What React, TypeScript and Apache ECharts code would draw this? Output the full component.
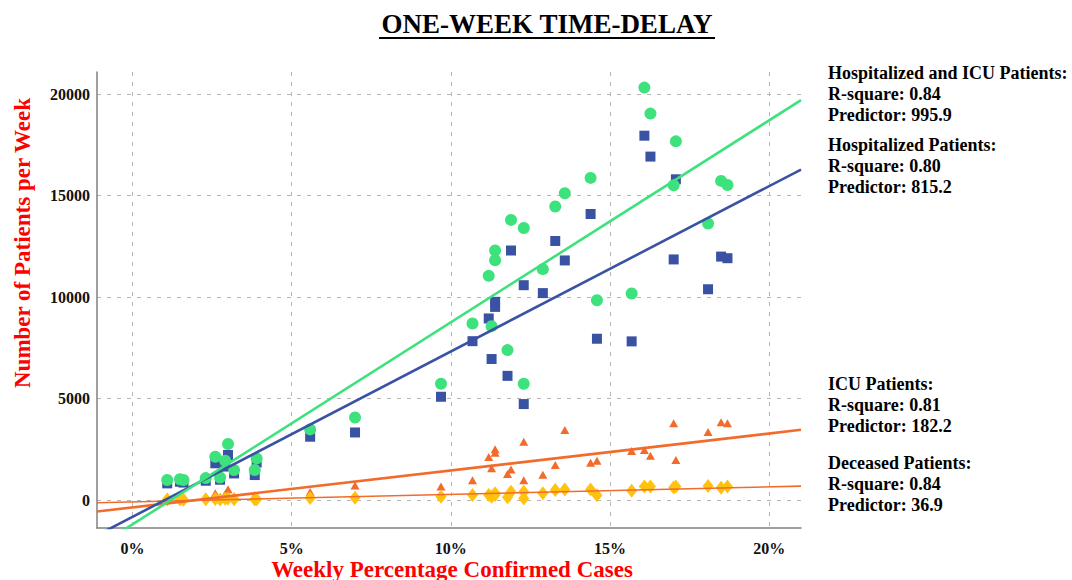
import React, { useEffect, useRef } from "react";
import * as echarts from "echarts";

const weekPct = [1.09, 1.49, 1.6, 2.3, 2.6, 2.75, 2.91, 3.0, 3.19, 3.84, 3.9, 5.58, 6.99, 9.69, 10.68, 11.19, 11.28, 11.39, 11.39, 11.78, 11.89, 12.29, 12.29, 12.89, 13.28, 13.58, 14.39, 14.59, 15.68, 16.08, 16.27, 17.0, 17.07, 18.08, 18.49, 18.69];
const hospAndIcu = [985, 1020, 985, 1080, 2130, 1110, 1940, 2760, 1480, 1480, 2050, 3480, 4070, 5730, 8700, 11050, 8570, 12300, 11820, 7390, 13810, 13410, 5730, 11380, 14470, 15120, 15880, 9850, 10180, 20330, 19050, 15520, 17680, 13630, 15730, 15530];
const hospitalized = [820, 900, 860, 950, 1810, 1000, 1650, 2220, 1310, 1230, 1850, 3120, 3330, 5090, 7830, 8950, 6950, 9770, 9520, 6120, 12300, 10590, 4730, 10200, 12770, 11810, 14100, 7950, 7820, 17960, 16930, 11860, 15810, 10390, 12000, 11920];
const icu = [140, 110, 100, 150, 330, 120, 290, 530, 190, 240, 200, 400, 720, 660, 970, 2120, 1560, 2500, 2330, 1280, 1510, 2870, 970, 1250, 1720, 3450, 1840, 1940, 2410, 2460, 2180, 3780, 1970, 3350, 3830, 3790];
const deceased = [30, 20, 10, 40, 50, 30, 60, 70, 40, 30, 40, 100, 110, 165, 250, 250, 165, 330, 250, 130, 410, 410, 80, 330, 490, 520, 520, 230, 460, 660, 660, 620, 660, 690, 610, 660];

const seriesNames = ["Hospitalized and ICU Patients", "Hospitalized Patients", "ICU Patients", "Deceased Patients"];
const rSquare = ["0.84", "0.80", "0.81", "0.84"];
const predictor = [995.9, 815.2, 182.2, 36.9];
const intercept = [-1200, -830, -365, -92];

const xTicks = [0, 5, 10, 15, 20];
const yTicks = [0, 5000, 10000, 15000, 20000];
const xRange = [-1.116, 21.0];
const yRange = [-1380, 21100];

const GREEN = "#3ee27d";
const BLUE = "#3a52a4";
const ORANGE = "#f26b2b";
const YELLOW = "#ffc20e";

const SERIF = "'Liberation Serif', 'Times New Roman', serif";

function pts(ys: number[]) {
  return weekPct.map((x, i) => [x, ys[i]]);
}
function fitLine(k: number) {
  return xRange.map((x) => [x, intercept[k] + predictor[k] * x]);
}

export default function App() {
  const ref = useRef<HTMLDivElement>(null);
  useEffect(() => {
    const chart = echarts.init(ref.current!, null, { renderer: "svg" });
    const textStyle = (y: number, t: string) => ({
      type: "text",
      x: 828,
      y: y,
      style: { text: t, font: `bold 18px ${SERIF}`, fill: "#000", align: "left", verticalAlign: "middle" },
    });
    const blockTops = [73, 145, 384, 463];
    const legendTexts: any[] = [];
    seriesNames.forEach((n, k) => {
      const y0 = blockTops[k];
      legendTexts.push(textStyle(y0, n + ":"));
      legendTexts.push(textStyle(y0 + 21, "R-square: " + rSquare[k]));
      legendTexts.push(textStyle(y0 + 42, "Predictor: " + predictor[k]));
    });
    const gridLine = { show: true, lineStyle: { color: "#b5b5b5", type: [4, 6], width: 1 } };
    chart.setOption({
      animation: false,
      grid: { left: 97, right: 271, top: 72, bottom: 52 },
      xAxis: {
        type: "value",
        min: xRange[0],
        max: xRange[1],
        axisLine: { show: true, onZero: false, lineStyle: { color: "#808080", width: 1.5 } },
        axisTick: { show: false, customValues: xTicks },
        axisLabel: {
          customValues: xTicks,
          formatter: (v: number) => v + "%",
          fontFamily: SERIF,
          fontWeight: "bold",
          fontSize: 16,
          color: "#111",
          margin: 12,
        },
        splitLine: gridLine,
      },
      yAxis: {
        type: "value",
        min: yRange[0],
        max: yRange[1],
        axisLine: { show: true, onZero: false, lineStyle: { color: "#808080", width: 1.5 } },
        axisTick: { show: false, customValues: yTicks },
        axisLabel: {
          customValues: yTicks,
          formatter: (v: number) => String(v),
          fontFamily: SERIF,
          fontWeight: "bold",
          fontSize: 16,
          color: "#111",
          margin: 7,
        },
        splitLine: gridLine,
      },
      graphic: [
        {
          type: "text",
          x: 547,
          y: 24,
          style: { text: "ONE-WEEK TIME-DELAY", font: `bold 27px ${SERIF}`, fill: "#000", align: "center", verticalAlign: "middle" },
        },
        { type: "line", shape: { x1: 379, y1: 38, x2: 715, y2: 38 }, style: { stroke: "#000", lineWidth: 2.2 } },
        {
          type: "text",
          x: 22,
          y: 243,
          rotation: Math.PI / 2,
          style: { text: "Number of Patients per Week", font: `bold 23px ${SERIF}`, fill: "#ff0000", align: "center", verticalAlign: "middle" },
        },
        {
          type: "text",
          x: 452,
          y: 569,
          style: { text: "Weekly Percentage Confirmed Cases", font: `bold 23px ${SERIF}`, fill: "#ff0000", align: "center", verticalAlign: "middle" },
        },
        ...legendTexts,
      ],
      series: [
        { name: seriesNames[1], type: "scatter", symbol: "rect", symbolSize: 10, itemStyle: { color: BLUE, opacity: 1 }, data: pts(hospitalized), z: 2 },
        { name: seriesNames[0], type: "scatter", symbol: "circle", symbolSize: 12, itemStyle: { color: GREEN, opacity: 1 }, data: pts(hospAndIcu), z: 2 },
        { name: seriesNames[2], type: "scatter", symbol: "triangle", symbolSize: [9, 8], itemStyle: { color: ORANGE, opacity: 1 }, data: pts(icu), z: 2 },
        { name: seriesNames[3], type: "scatter", symbol: "diamond", symbolSize: [11, 14], itemStyle: { color: YELLOW, opacity: 1 }, data: pts(deceased), z: 2 },
        { name: "fit3", type: "line", showSymbol: false, symbol: "none", clip: true, lineStyle: { color: ORANGE, width: 1.6 }, data: fitLine(3), z: 3 },
        { name: "fit2", type: "line", showSymbol: false, symbol: "none", clip: true, lineStyle: { color: ORANGE, width: 2.6 }, data: fitLine(2), z: 3 },
        { name: "fit1", type: "line", showSymbol: false, symbol: "none", clip: true, lineStyle: { color: BLUE, width: 2.6 }, data: fitLine(1), z: 3 },
        { name: "fit0", type: "line", showSymbol: false, symbol: "none", clip: true, lineStyle: { color: GREEN, width: 2.6 }, data: fitLine(0), z: 3 },
      ],
    });
    return () => chart.dispose();
  }, []);
  return <div ref={ref} style={{ position: "absolute", left: 0, top: 0, width: 1072, height: 580 }} />;
}
